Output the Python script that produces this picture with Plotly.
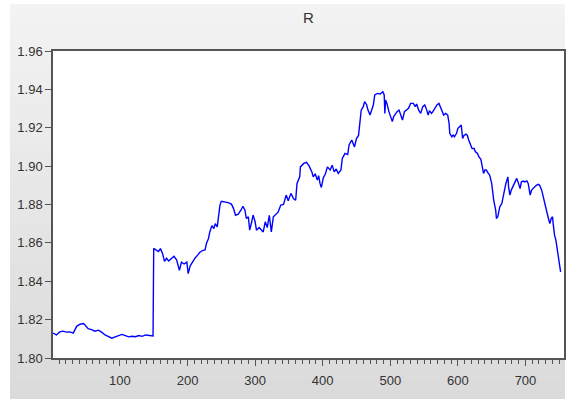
import plotly.graph_objects as go

obs = [1, 6, 11, 16, 21, 26, 31, 36, 41, 46, 48, 53, 58, 63, 68, 73, 78, 83, 88, 93,
       98, 103, 108, 113, 118, 123, 128, 133, 138, 143, 148, 149,
       150, 154, 157, 160, 163, 166, 169, 172, 176, 180, 184, 186, 188, 191, 195, 199,
       201, 204, 207, 211, 215, 218, 222, 226, 228, 231, 233, 236, 239, 241, 244, 246,
       248, 250, 255, 260, 265, 268, 271, 275, 279, 282, 285, 287, 290,
       292, 295, 297, 300, 302, 306, 310, 312, 315, 318, 321, 324, 327, 331, 334, 338,
       342, 346, 349, 353, 357, 360, 362, 366, 367, 372, 376, 380, 384, 386, 389, 392,
       394, 396, 398, 401, 404, 407, 411, 414, 417, 420, 423, 427, 429, 433, 437, 439,
       443, 447, 450, 453,
       455, 457, 460, 462, 465, 467, 470, 472, 475, 477, 481, 485, 487, 489, 491, 492,
       493, 495, 498, 500, 503, 505, 508, 510, 513, 515, 518, 521, 524, 527, 530, 534,
       537, 539, 542, 545, 548, 551, 554, 556, 558, 561, 563, 566, 569, 572, 575, 577,
       579, 582, 585, 587, 588, 591, 593, 595, 598, 600,
       603, 605, 607, 609, 612, 614, 616, 619, 621, 624, 626, 629, 631, 634, 636, 638,
       640, 642, 645, 647, 650, 651, 653, 656, 657, 659, 661, 662, 665, 667, 669, 671,
       672, 674, 675, 677, 679, 682, 684, 687, 689, 692, 694, 697, 699, 702, 704, 707,
       709, 711, 714, 716, 719, 721, 724, 726, 729, 731, 734, 736, 738, 740, 741, 743,
       745, 746, 748, 750, 752]

r_values = [1.8130, 1.8120, 1.8136, 1.8140, 1.8135, 1.8136, 1.8130, 1.8165, 1.8176, 1.8180,
            1.8173, 1.8153, 1.8148, 1.8140, 1.8145, 1.8135, 1.8120, 1.8113, 1.8103, 1.8110,
            1.8117, 1.8123, 1.8117, 1.8110, 1.8113, 1.8111, 1.8117, 1.8113, 1.8120, 1.8117,
            1.8117, 1.8115,
            1.8571, 1.8562, 1.8555, 1.8570, 1.8545, 1.8504, 1.8520, 1.8506, 1.8520, 1.8530,
            1.8510, 1.8484, 1.8457, 1.8500, 1.8490, 1.8500, 1.8440, 1.8480, 1.8500, 1.8520,
            1.8536, 1.8550, 1.8560, 1.8563, 1.8597, 1.8623, 1.8657, 1.8690, 1.8675, 1.8700,
            1.8683, 1.8735, 1.8797, 1.8817, 1.8814, 1.8810, 1.8802, 1.8780, 1.8744, 1.8750,
            1.8770, 1.8791, 1.8770, 1.8727, 1.8736,
            1.8666, 1.8710, 1.8745, 1.8710, 1.8666, 1.8680, 1.8666, 1.8657, 1.8710, 1.8680,
            1.8744, 1.8657, 1.8736, 1.8753, 1.8760, 1.8797, 1.8800, 1.8849, 1.8820, 1.8858,
            1.8830, 1.8822, 1.8910, 1.8944, 1.8996, 1.9014, 1.9020, 1.9000, 1.8970, 1.8944,
            1.8960, 1.8927, 1.8950, 1.8910, 1.8889, 1.8940, 1.8960, 1.8996, 1.8980, 1.9005,
            1.8970, 1.8985, 1.8962, 1.8980, 1.9040, 1.9066, 1.9060, 1.9110, 1.9136, 1.9100,
            1.9144, 1.9160,
            1.9249, 1.9292, 1.9310, 1.9336, 1.9320, 1.9292, 1.9266, 1.9284, 1.9320, 1.9371,
            1.9379, 1.9376, 1.9383, 1.9388, 1.9371, 1.9275, 1.9345, 1.9327, 1.9284, 1.9261,
            1.9232, 1.9258, 1.9275, 1.9284, 1.9292, 1.9266, 1.9240, 1.9284, 1.9292, 1.9301,
            1.9327, 1.9327, 1.9310, 1.9324, 1.9292, 1.9275, 1.9310, 1.9319, 1.9292, 1.9266,
            1.9289, 1.9275, 1.9284, 1.9301, 1.9319, 1.9327, 1.9301, 1.9284, 1.9266, 1.9275,
            1.9266, 1.9223, 1.9171, 1.9153, 1.9162, 1.9153, 1.9171, 1.9197,
            1.9205, 1.9214, 1.9144, 1.9160, 1.9167, 1.9160, 1.9136, 1.9110, 1.9092, 1.9092,
            1.9075, 1.9066, 1.9049, 1.9035, 1.8996, 1.8962, 1.8980, 1.8980, 1.8962, 1.8953,
            1.8910, 1.8866, 1.8823, 1.8770, 1.8727, 1.8736, 1.8770, 1.8788, 1.8805, 1.8849,
            1.8875, 1.8910, 1.8927, 1.8944, 1.8892, 1.8849, 1.8875, 1.8900, 1.8918, 1.8936,
            1.8918, 1.8883, 1.8918, 1.8922, 1.8918, 1.8923, 1.8910, 1.8849, 1.8875, 1.8883,
            1.8892, 1.8900, 1.8905, 1.8900, 1.8875, 1.8840, 1.8788, 1.8770, 1.8727, 1.8700,
            1.8727, 1.8736, 1.8700, 1.8640, 1.8614, 1.8588, 1.8544, 1.8500, 1.8449]

y_ticks = [1.80, 1.82, 1.84, 1.86, 1.88, 1.90, 1.92, 1.94, 1.96]
x_ticks = [100, 200, 300, 400, 500, 600, 700]
title_text = "R"

fig = go.Figure()
fig.add_trace(go.Scatter(x=obs, y=r_values, mode="lines",
                         line=dict(color="#0000ff", width=1.4),
                         showlegend=False, hoverinfo="skip"))

W, H = 568, 399
ml, mr, mt, mb = 53, 4, 51, 41
pw, ph = W - ml - mr, H - mt - mb

def px2paper_x(px):
    return (px - ml) / pw

def py2paper_y(py):
    return (H - mb - py) / ph

# Gradient grey frame (bands), then white plot area on top
shapes = []
x0, x1 = px2paper_x(10), px2paper_x(565)
top_px, bot_px = 4, 399
nb = 40
c_top, c_bot = 243, 218
for i in range(nb):
    a = top_px + (bot_px - top_px) * i / nb
    b = top_px + (bot_px - top_px) * (i + 1) / nb + 0.6
    t = (i + 0.5) / nb
    c = round(c_top + (c_bot - c_top) * t)
    shapes.append(dict(type="rect", xref="paper", yref="paper",
                       x0=x0, x1=x1, y0=py2paper_y(min(b, bot_px)), y1=py2paper_y(a),
                       fillcolor=f"rgb({c},{c},{c})", line=dict(width=0), layer="below"))
shapes.append(dict(type="rect", xref="paper", yref="paper", x0=0, x1=1, y0=0, y1=1,
                   fillcolor="white", line=dict(width=0), layer="below"))

axis_font = dict(family="Liberation Sans, Arial, sans-serif", size=13, color="#333333")

fig.update_layout(
    width=W, height=H,
    margin=dict(l=ml, r=mr, t=mt, b=mb, autoexpand=False),
    paper_bgcolor="white",
    plot_bgcolor="white",
    shapes=shapes,
    title=dict(text=title_text, x=px2paper_x(308.5), xref="paper", xanchor="center",
               y=1 - 18 / H, yref="container", yanchor="middle",
               font=dict(family="Liberation Sans, Arial, sans-serif", size=15, color="#333333")),
    xaxis=dict(range=[1, 757], tickvals=x_ticks, showgrid=False, zeroline=False,
               automargin=False,
               showline=True, linecolor="#555555", linewidth=1.5, mirror=True,
               ticks="outside", ticklen=6, tickwidth=1.2, tickcolor="#555555",
               tickfont=axis_font, ticklabelstandoff=4,
               minor=dict(dtick=10, tick0=0, ticks="outside", ticklen=4,
                          tickwidth=1, tickcolor="#555555", showgrid=False)),
    yaxis=dict(range=[1.80, 1.96], tickvals=y_ticks, tickformat=".2f",
               automargin=False,
               showgrid=False, zeroline=False,
               showline=True, linecolor="#555555", linewidth=1.5, mirror=True,
               ticks="outside", ticklen=6, tickwidth=1.2, tickcolor="#555555",
               tickfont=axis_font),
)

fig.write_html("out.html",
               config={"displayModeBar": False},
               post_script="document.body.style.margin='0';document.body.style.padding='0';")
